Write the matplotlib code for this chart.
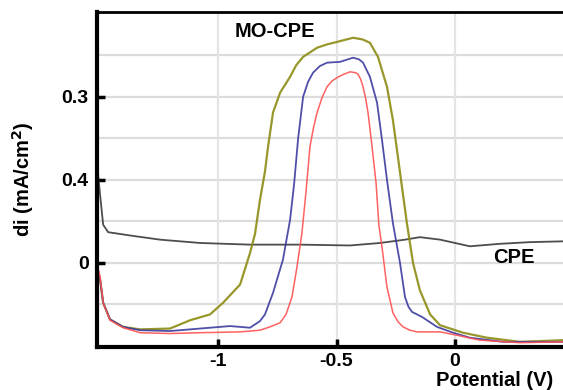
import matplotlib
matplotlib.use("Agg")
import matplotlib.pyplot as plt

# ---- data (potential in V, current in axis units) ----
red_x = [-1.506, -1.498, -1.485, -1.456, -1.401, -1.329, -1.203, -1.076, -0.907, -0.823, -0.781, -0.738,
         -0.713, -0.688, -0.667, -0.646, -0.629, -0.612, -0.597, -0.582, -0.561, -0.540, -0.519, -0.498,
         -0.470, -0.443, -0.420, -0.409, -0.398, -0.388, -0.377,
         -0.367, -0.350, -0.333, -0.321, -0.308, -0.287, -0.262, -0.240, -0.219, -0.190, -0.160, -0.063,
         0.008, 0.105, 0.274, 0.456]
red_y = [-0.08, -0.17, -0.48, -0.69, -0.78, -0.84, -0.85, -0.84, -0.83, -0.81, -0.77, -0.72,
         -0.62, -0.41, -0.05, 0.36, 0.85, 1.40, 1.63, 1.81, 1.99, 2.12, 2.19, 2.23,
         2.27, 2.30, 2.29, 2.27, 2.21, 2.12, 1.98,
         1.81, 1.40, 0.96, 0.45, 0.19, -0.29, -0.60, -0.71, -0.77, -0.81, -0.83, -0.83,
         -0.87, -0.93, -0.96, -0.95]

blue_x = [-1.506, -1.498, -1.485, -1.456, -1.401, -1.329, -1.203, -1.034, -0.949, -0.865, -0.823, -0.802,
          -0.768, -0.726, -0.696, -0.679, -0.662, -0.641, -0.620, -0.599, -0.570, -0.540, -0.485, -0.430,
          -0.405, -0.388, -0.359, -0.329, -0.308, -0.287, -0.262, -0.232, -0.211, -0.196, -0.181, -0.139,
          -0.076, -0.008, 0.063, 0.203, 0.456]
blue_y = [-0.10, -0.20, -0.48, -0.68, -0.77, -0.81, -0.82, -0.78, -0.76, -0.78, -0.70, -0.62,
          -0.36, 0.04, 0.52, 0.95, 1.50, 2.00, 2.18, 2.29, 2.37, 2.41, 2.42, 2.47,
          2.45, 2.41, 2.24, 1.93, 1.48, 1.00, 0.48, 0.00, -0.41, -0.53, -0.59, -0.65,
          -0.77, -0.84, -0.90, -0.95, -0.95]

olive_x = [-1.506, -1.498, -1.485, -1.456, -1.401, -1.329, -1.203, -1.118, -1.034, -0.979, -0.907, -0.865,
           -0.844, -0.823, -0.802, -0.789, -0.768, -0.738, -0.696, -0.670, -0.641, -0.582, -0.540, -0.498,
           -0.430, -0.390, -0.359, -0.325, -0.287, -0.262, -0.241, -0.224, -0.203, -0.177, -0.148, -0.105,
           -0.063, 0.034, 0.135, 0.274, 0.456]
olive_y = [-0.10, -0.20, -0.48, -0.68, -0.77, -0.80, -0.79, -0.69, -0.62, -0.48, -0.26, 0.12,
           0.35, 0.76, 1.10, 1.40, 1.81, 2.05, 2.24, 2.38, 2.48, 2.59, 2.63, 2.66,
           2.71, 2.69, 2.65, 2.48, 2.12, 1.72, 1.28, 0.92, 0.48, 0.00, -0.33, -0.62,
           -0.75, -0.84, -0.90, -0.95, -0.93]

cpe_x = [-1.506, -1.498, -1.485, -1.464, -1.371, -1.245, -1.076, -0.865, -0.654, -0.443, -0.316, -0.211,
         -0.148, -0.063, 0.063, 0.190, 0.316, 0.456]
cpe_y = [1.06, 0.82, 0.46, 0.37, 0.33, 0.28, 0.24, 0.22, 0.22, 0.21, 0.24, 0.28,
         0.31, 0.28, 0.20, 0.23, 0.25, 0.26]

xticks = [-1, -0.5, 0]
xtick_labels = ["-1", "-0.5", "0"]
yticks = [0, 1, 2]
ytick_labels = ["0", "0.4", "0.3"]

plt.rcParams['font.family'] = ['Liberation Sans', 'DejaVu Sans']

fig = plt.figure(figsize=(5.63, 3.90), dpi=100)
ax = fig.add_axes([97/563, 1-347/390, 1-97/563, (347-12)/390])

ax.set_xlim(-1.511, 0.456)
ax.set_ylim(-1.012, 3.02)

# grid
for gy in [-0.5, 0, 0.5, 1, 1.5, 2, 2.5]:
    ax.axhline(gy, color='#dcdcdc', lw=1.6, zorder=0)
for gx in xticks:
    ax.axvline(gx, color='#e4e4e4', lw=1.6, zorder=0)

ax.plot(cpe_x, cpe_y, color='#3a3a3a', lw=1.3, alpha=0.9)
ax.plot(olive_x, olive_y, color='#8c8c14', lw=1.6, alpha=0.9)
ax.plot(blue_x, blue_y, color='#3c3ca0', lw=1.3, alpha=0.9)
ax.plot(red_x, red_y, color='#ff5050', lw=1.1, alpha=0.9)

ax.set_xticks(xticks)
ax.set_xticklabels(xtick_labels)
ax.set_yticks(yticks)
ax.set_yticklabels(ytick_labels)
ax.tick_params(direction='in', length=6, width=2.5, labelsize=14, pad=6)
for lab in ax.get_xticklabels() + ax.get_yticklabels():
    lab.set_fontweight('bold')
ax.tick_params(axis='x', pad=4)

for s in ['left', 'bottom']:
    ax.spines[s].set_linewidth(3)
ax.spines['top'].set_linewidth(2)
ax.spines['right'].set_visible(False)

ax.set_ylabel("di (mA/cm$^\\mathbf{2}$)", fontsize=14.5, fontweight='bold')
ax.yaxis.set_label_coords(-0.13, 0.5)

ax.text(-0.93, 2.78, "MO-CPE", fontsize=14.5, fontweight='bold', ha='left', va='center')
ax.text(0.16, 0.07, "CPE", fontsize=14.5, fontweight='bold', ha='left', va='center')

fig.text(553/563, 1-381/390, "Potential (V)", fontsize=14.5, fontweight='bold', ha='right', va='center')

fig.savefig("out.png", dpi=100)
